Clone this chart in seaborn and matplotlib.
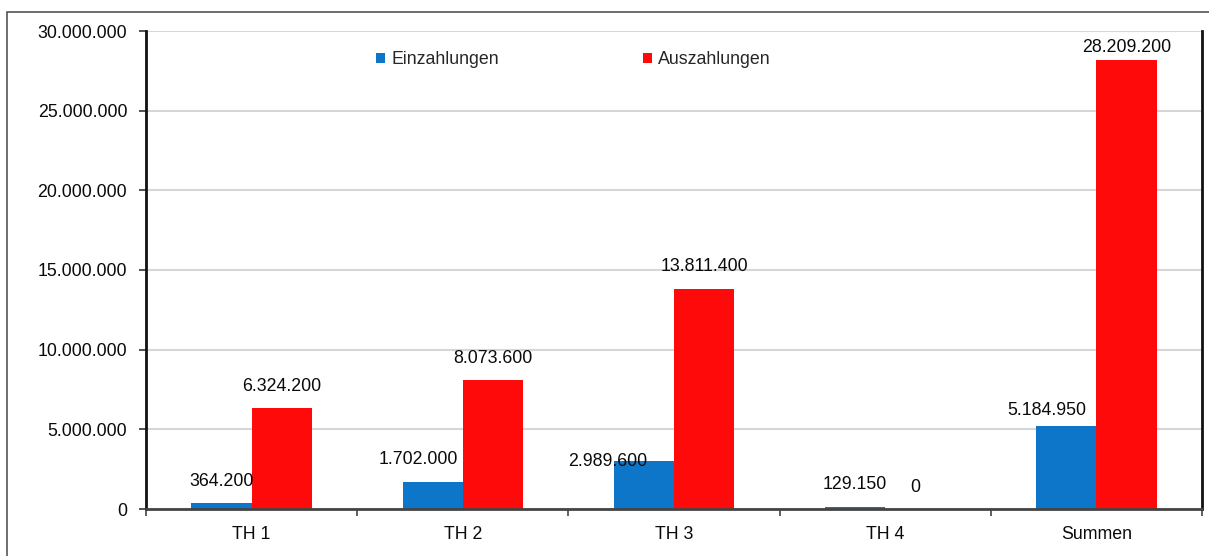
import matplotlib
matplotlib.use("Agg")
import matplotlib.pyplot as plt
import matplotlib.patches as mpatches
from matplotlib.ticker import FuncFormatter, MultipleLocator, FixedLocator
import seaborn as sns
import pandas as pd

kategorien = ["TH 1", "TH 2", "TH 3", "TH 4", "Summen"]
einzahlungen = [364200, 1702000, 2989600, 129150, 5184950]
auszahlungen = [6324200, 8073600, 13811400, 0, 28209200]
serien = ["Einzahlungen", "Auszahlungen"]

BLUE = "#0E76C8"
RED = "#FF0A0A"
FS = 12.8


def de_fmt(v, pos=None):
    return f"{v:,.0f}".replace(",", ".")


def main():
    df = pd.DataFrame({
        "Kategorie": kategorien * 2,
        "Betrag": einzahlungen + auszahlungen,
        "Art": [serien[0]] * len(kategorien) + [serien[1]] * len(kategorien),
    })

    sns.set_theme(style="white")
    plt.rcParams["font.family"] = ["Liberation Sans", "DejaVu Sans"]

    fig = plt.figure(figsize=(12.09, 5.56), dpi=100)
    ax = fig.add_axes([146 / 1209, 1 - 509 / 556, (1202 - 146) / 1209, (509 - 31) / 556])

    sns.barplot(data=df, x="Kategorie", y="Betrag", hue="Art", palette=[BLUE, RED],
                width=0.57, saturation=1, ax=ax, errorbar=None, linewidth=0)

    ax.set_xlim(-0.5, 4.5)
    ax.set_ylim(0, 30_000_000)
    ax.yaxis.set_major_locator(MultipleLocator(5_000_000))
    ax.yaxis.set_major_formatter(FuncFormatter(de_fmt))
    ax.grid(axis="y", color="#D6D6D6", linewidth=1.5)
    ax.set_axisbelow(True)
    ax.set_xlabel("")
    ax.set_ylabel("")

    ax.tick_params(axis="y", which="major", left=True, length=5, width=1.2,
                   color="#333333", pad=8.5, labelsize=FS, labelcolor="#0A0A0A")
    ax.tick_params(axis="x", which="major", bottom=False, length=0, pad=12.5,
                   labelsize=FS, labelcolor="#0A0A0A")
    ax.xaxis.set_minor_locator(FixedLocator([i - 0.5 for i in range(len(kategorien) + 1)]))
    ax.tick_params(axis="x", which="minor", bottom=True, length=5, width=1.2, color="#444444")

    for side in ["left", "right"]:
        ax.spines[side].set_color("#111111")
        ax.spines[side].set_linewidth(2)
    ax.spines["bottom"].set_color("#444444")
    ax.spines["bottom"].set_linewidth(2)
    ax.spines["top"].set_visible(False)

    # data labels, some nudged like in the original
    nudge = {(0, 1): (-14, 0), (0, 2): (-36, -22), (0, 4): (-20, -6), (1, 4): (0, -10)}
    for s, container in enumerate(ax.containers):
        for i, bar in enumerate(container):
            dx, dy = nudge.get((s, i), (0, 0))
            ax.annotate(de_fmt(bar.get_height()),
                        (bar.get_x() + bar.get_width() / 2, bar.get_height()),
                        xytext=(dx, 22 + dy), textcoords="offset pixels",
                        ha="center", va="center", fontsize=FS, color="#0A0A0A")

    handles, labels = ax.get_legend_handles_labels()
    ax.get_legend().remove()
    fig.legend(handles, labels, loc="center left",
               bbox_to_anchor=(376 / 1209, 1 - 60 / 556), ncol=2, frameon=False,
               borderpad=0, borderaxespad=0, handlelength=0.5, handleheight=0.5,
               handletextpad=0.35, columnspacing=8.1, fontsize=FS)

    # outer chart frame
    fig.patches.append(mpatches.Rectangle((7 / 1209, -0.02), 1.05, 1 - 12 / 556 + 0.02,
                                          transform=fig.transFigure, fill=False,
                                          edgecolor="#555555", linewidth=1.2))

    fig.savefig("out.png", dpi=100)


if __name__ == "__main__":
    main()
